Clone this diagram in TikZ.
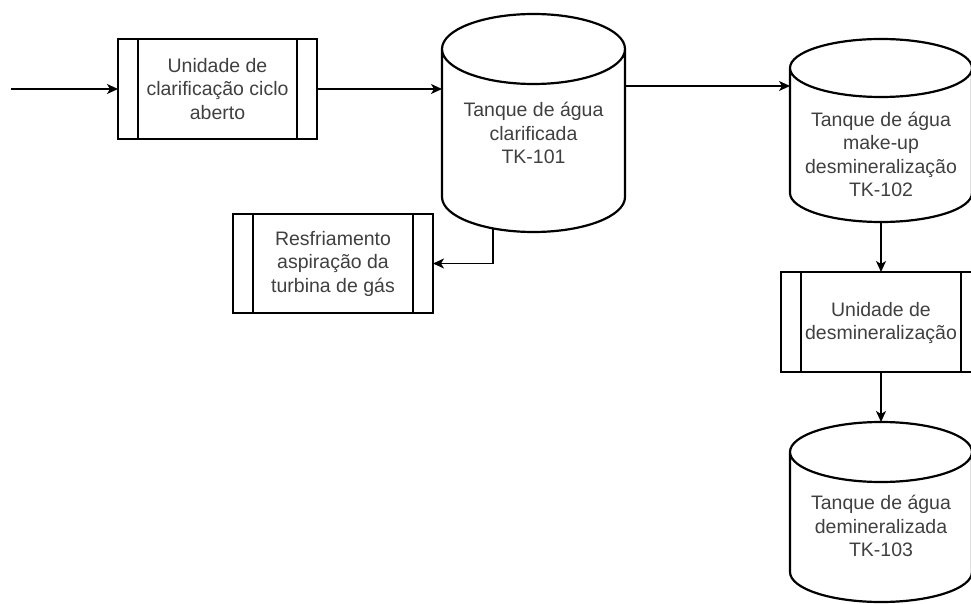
\documentclass[tikz,border=0pt]{standalone}
\usepackage{fontspec}
\setmainfont{Liberation Sans}
\usetikzlibrary{arrows.meta,calc}
\definecolor{txtgray}{HTML}{404040}
\tikzset{
  procbox/.style={draw=black, line width=1.2pt, rectangle, outer sep=0pt, inner sep=0pt},
  tankbody/.style={draw=none, rectangle, outer sep=0pt, inner sep=0pt},
  tankline/.style={draw=black, line width=2.2pt, line join=round},
  txt/.style={text=txtgray, align=center, font=\fontsize{19.5}{23.5}\selectfont, inner sep=0pt},
  arr/.style={draw=black, line width=1.5pt, -{Stealth[length=11pt,width=10pt,inset=3pt]}},
}
\newcommand\procbars[1]{%
  \draw[line width=1.2pt] ([xshift=20pt]#1.north west) -- ([xshift=20pt]#1.south west);
  \draw[line width=1.2pt] ([xshift=-20pt]#1.north east) -- ([xshift=-20pt]#1.south east);}
\newcommand\tankdraw[3]{%
  \draw[tankline] ([yshift=-#3pt]#1.north west) -- ([yshift=#3pt]#1.south west)
    arc[start angle=180, end angle=360, x radius=#2, y radius=#3]
    -- ([yshift=-#3pt]#1.north east)
    arc[start angle=0, end angle=360, x radius=#2, y radius=#3];}
\begin{document}
\begin{tikzpicture}[x=1pt,y=1pt]
\useasboundingbox (0,0) rectangle (971,603);
\clip (0,0) rectangle (971,603);
\fill[white] (0,0) rectangle (971,603);

% process boxes
\node[procbox, minimum width=199pt, minimum height=100pt] (u1) at (217.5,514) {};
\node[txt] (u1l) at (u1.center) {Unidade de\\clarificação ciclo\\aberto};
\procbars{u1}

\node[procbox, minimum width=200pt, minimum height=99pt] (rf) at (333,339.5) {};
\node[txt] (rfl) at (rf.center) {Resfriamento\\aspiração da\\turbina de gás};
\procbars{rf}

\node[procbox, minimum width=200pt, minimum height=100pt] (ud) at (881,281) {};
\node[txt] (udl) at ([yshift=-1pt]ud.center) {Unidade de\\desmineralização};
\procbars{ud}

% tanks
\node[tankbody, minimum width=183pt, minimum height=218pt] (t1) at (533.5,480) {};
\tankdraw{t1}{91.5}{35}
\node[txt] (t1l) at ([yshift=-10pt]t1.center) {Tanque de água\\clarificada\\TK-101};

\node[tankbody, minimum width=182pt, minimum height=183pt] (t2) at (881,472.5) {};
\tankdraw{t2}{91}{29}
\node[txt] (t2l) at ([yshift=-24pt]t2.center) {Tanque de água\\make-up\\desmineralização\\TK-102};

\node[tankbody, minimum width=182pt, minimum height=180pt] (t3) at (881,91) {};
\tankdraw{t3}{91}{30}
\node[txt] (t3l) at ([yshift=-14pt]t3.center) {Tanque de água\\demineralizada\\TK-103};

% connectors
\coordinate (in) at (11,514);
\draw[arr] (in) -- (u1.west);
\draw[arr] (u1.east) -- (u1.east -| t1.west);
\draw[arr] ([yshift=37pt]t1.east) -- ([yshift=37pt]t1.east -| t2.west);
\draw[arr] ([xshift=-40.5pt,yshift=4pt]t1.south) |- (rf.east);
\draw[arr] (t2.south) -- (ud.north);
\draw[arr] (ud.south) -- (t3.north);
\end{tikzpicture}
\end{document}
